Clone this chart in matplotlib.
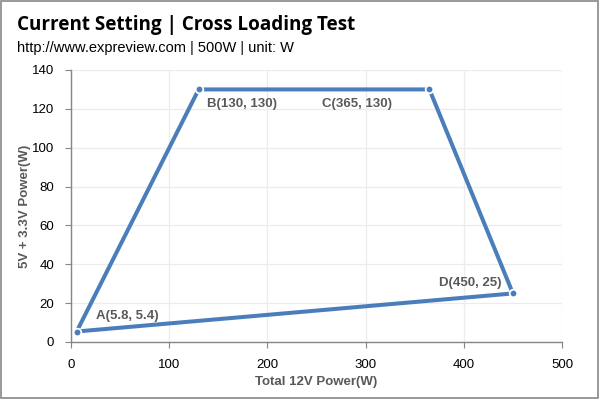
import matplotlib.pyplot as plt
from matplotlib.patches import Rectangle

# ---------------- datos ----------------
puntos = ["A", "B", "C", "D"]
potencia_12v = [5.8, 130, 365, 450]
potencia_5v33 = [5.4, 130, 130, 25]

azul = "#4a7ebb"

fig = plt.figure(figsize=(6.0, 3.99), dpi=100)
ax = fig.add_axes([71 / 600, 1 - 342 / 399, (562 - 71) / 600, (342 - 70) / 399])

# poligono cerrado A-B-C-D-A
xs = potencia_12v + [potencia_12v[0]]
ys = potencia_5v33 + [potencia_5v33[0]]
ax.plot(xs, ys, color=azul, lw=2.9, solid_capstyle="butt", zorder=3)
ax.plot(potencia_12v, potencia_5v33, "o", color=azul, ms=5.5,
        mec="white", mew=1.3, zorder=4)

# etiquetas de los puntos
offsets = [(14, 7, "left", "bottom"), (6, -6, "left", "top"),
           (-27, -6, "right", "top"), (-8, 3, "right", "bottom")]
for p, x, y, (dx, dy, ha, va) in zip(puntos, potencia_12v, potencia_5v33, offsets):
    etiqueta = f"{p}({x:g}, {y:g})"
    ax.annotate(etiqueta, (x, y), xytext=(dx, dy), textcoords="offset points",
                ha=ha, va=va, fontsize=9.5, fontweight="bold", color="#595959",
                family="Liberation Sans")

ax.set_xlim(0, 500)
ax.set_ylim(0, 140)
ax.set_xticks(range(0, 501, 100))
ax.set_yticks(range(0, 141, 20))
ax.grid(True, color="#ececec", lw=0.9)
ax.set_axisbelow(True)
for s in ["top", "right"]:
    ax.spines[s].set_visible(False)
for s in ["left", "bottom"]:
    ax.spines[s].set_color("#868686")
    ax.spines[s].set_linewidth(1.0)
ax.tick_params(colors="#868686", labelcolor="black", labelsize=9.5, length=4, pad=8)
for lab in ax.get_xticklabels() + ax.get_yticklabels():
    lab.set_family("Liberation Sans")

ax.set_xlabel("Total 12V Power(W)", fontsize=9.5, fontweight="bold",
              color="#595959", family="Liberation Sans", labelpad=4)
ax.set_ylabel("5V + 3.3V Power(W)", fontsize=9.5, fontweight="bold",
              color="#595959", family="Liberation Sans", labelpad=1)

# titulo y subtitulo
fig.text(17 / 600, 1 - 25 / 399, "Current Setting | Cross Loading Test",
         fontsize=13.6, fontweight="bold", family="Open Sans", va="center")
fig.text(17 / 600, 1 - 48 / 399, "http://www.expreview.com | 500W | unit: W",
         fontsize=10.5, family="Liberation Sans", va="center")

# borde de la figura
fig.patches.append(Rectangle((0.002, 0.003), 0.995, 0.994, transform=fig.transFigure,
                             fill=False, edgecolor="#888888", lw=1.2))

fig.savefig("out.png", dpi=100)
